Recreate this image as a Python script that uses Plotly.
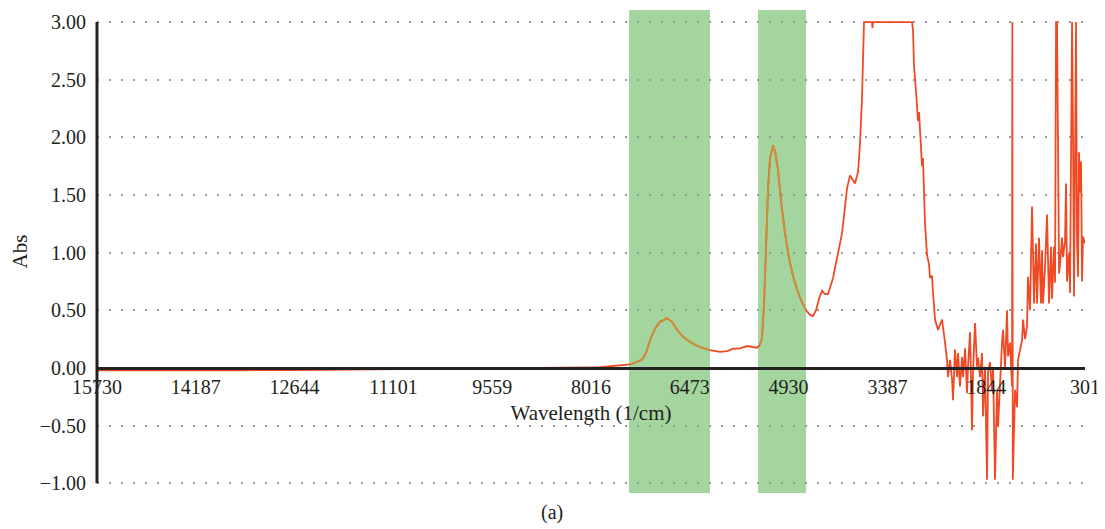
import plotly.graph_objects as go

# ---------------- data ----------------
WAVENUMBER = [
    15730, 15000, 14187, 13500, 12644, 11800, 11101, 10300, 9559, 9000, 8500, 8016,
    7875, 7640, 7406, 7219, 7156, 7094, 7016, 6938, 6828, 6750, 6672, 6578, 6469,
    6313, 6157, 6001, 5891, 5798, 5688, 5579, 5501, 5423, 5376, 5345, 5313, 5282,
    5251, 5220, 5173, 5142, 5095, 5048, 4986, 4923, 4861, 4798, 4736, 4658, 4595,
    4548, 4501, 4455, 4408, 4361, 4314, 4236, 4158, 4095, 4048, 4017, 3970, 3924,
    3892, 3845, 3814, 3783, 3767, 3752, 3627, 3620, 3611, 3002, 2987, 2971, 2940,
    2925, 2908, 2893, 2862, 2846, 2831, 2799, 2768, 2737, 2721, 2690, 2674, 2643,
    2596, 2534, 2487, 2456, 2440, 2409, 2377, 2362, 2331, 2299, 2284, 2253, 2221,
    2206, 2174, 2143, 2128, 2096, 2065, 2050, 2018, 1987, 1971, 1940, 1909, 1893,
    1862, 1831, 1815, 1784, 1753, 1737, 1706, 1675, 1659, 1628, 1597, 1581, 1550,
    1519, 1503, 1472, 1440, 1436, 1428, 1394, 1362, 1347, 1316, 1284, 1269, 1237,
    1206, 1191, 1159, 1128, 1097, 1066, 1050, 1019, 988, 972, 956, 925, 894, 863,
    831, 816, 785, 769, 753, 738, 706, 691, 660, 644, 613, 597, 582, 550, 535, 503,
    488, 472, 441, 425, 410, 394, 378, 363, 347, 332, 301,
]
ABSORBANCE = [
    -0.020, -0.022, -0.020, -0.020, -0.018, -0.015, -0.012, -0.009, -0.005, -0.002, 0.000, 0.004,
    0.006, 0.015, 0.030, 0.070, 0.130, 0.240, 0.340, 0.400, 0.430, 0.400, 0.330, 0.270, 0.225,
    0.180, 0.155, 0.140, 0.145, 0.165, 0.170, 0.190, 0.185, 0.175, 0.200, 0.260, 0.550, 1.000,
    1.550, 1.820, 1.930, 1.880, 1.720, 1.450, 1.170, 0.950, 0.800, 0.680, 0.590, 0.500, 0.460,
    0.450, 0.500, 0.600, 0.670, 0.640, 0.640, 0.780, 0.980, 1.170, 1.400, 1.560, 1.670, 1.630,
    1.600, 1.700, 1.950, 2.350, 2.700, 3.000, 3.000, 2.950, 3.000, 3.000, 2.930, 2.620, 2.400,
    2.280, 2.140, 2.220, 1.950, 1.750, 1.820, 1.250, 0.980, 0.900, 0.780, 0.800, 0.650, 0.420,
    0.330, 0.420, 0.220, 0.070, -0.080, 0.070, -0.100, -0.280, 0.160, -0.080, 0.130, -0.160, 0.095,
    -0.080, 0.170, -0.220, 0.010, 0.310, -0.540, -0.040, 0.390, 0.010, 0.090, -0.080, 0.130, -0.420,
    0.010, -0.970, -0.040, 0.050, -0.200, 0.010, -0.970, -0.190, -0.510, -0.080, 0.220, 0.330, 0.000,
    0.500, 0.100, 0.220, -0.160, 3.000, -0.970, -0.190, -0.340, 0.070, 0.160, 0.240, 0.420, 0.250,
    0.360, 0.790, 0.500, 1.400, 0.560, 1.080, 0.560, 1.130, 0.560, 1.020, 0.560, 0.880, 1.330, 0.560,
    1.050, 0.600, 1.050, 0.740, 3.000, 3.000, 0.820, 0.900, 1.130, 0.960, 1.100, 1.600, 0.750, 1.000, 0.650, 3.000,
    2.000, 0.620, 3.000, 1.080, 0.790, 1.870, 1.520, 1.790, 0.750, 1.140, 1.080,
]
X_TICKS = [15730, 14187, 12644, 11101, 9559, 8016, 6473, 4930, 3387, 1844, 301]
Y_TICKS = [-1.0, -0.5, 0.0, 0.5, 1.0, 1.5, 2.0, 2.5, 3.0]
BANDS = [(7422, 6157), (5407, 4657)]          # highlighted wavenumber windows
X_TITLE = "Wavelength (1/cm)"
Y_TITLE = "Abs"
CAPTION = "(a)"

# ---------------- styling ----------------
FONT = "Liberation Serif, Times New Roman, serif"
LINE_RED = "#f04a25"
LINE_IN_BAND = "#c8913a"
BAND_GREEN = "#a4d59e"
Y_RANGE = [-1.085, 3.105]
X_RANGE = [X_TICKS[0], X_TICKS[-1]]

fig = go.Figure()
fig.add_trace(go.Scatter(x=WAVENUMBER, y=ABSORBANCE, mode="lines",
                         line=dict(color=LINE_RED, width=1.8), showlegend=False))

# colour of the line where it passes through the highlighted windows
for hi, lo in BANDS:
    xs, ys = [], []
    for x, y in zip(WAVENUMBER, ABSORBANCE):
        if lo <= x <= hi:
            xs.append(x)
            ys.append(y)
    fig.add_trace(go.Scatter(x=xs, y=ys, mode="lines",
                             line=dict(color=LINE_IN_BAND, width=1.8), showlegend=False))

for hi, lo in BANDS:
    fig.add_shape(type="rect", xref="x", yref="paper", x0=hi, x1=lo, y0=0, y1=1,
                  fillcolor=BAND_GREEN, line=dict(width=0), layer="below")

# vertical axis line spanning only the tick range
fig.add_shape(type="line", xref="paper", yref="y", x0=0, x1=0,
              y0=Y_TICKS[0], y1=Y_TICKS[-1], line=dict(color="#222222", width=3))

zero_pos = (0 - Y_RANGE[0]) / (Y_RANGE[1] - Y_RANGE[0])

fig.update_layout(
    width=1105, height=529,
    margin=dict(l=89, r=28, t=2, b=44),
    paper_bgcolor="white", plot_bgcolor="white",
    font=dict(family=FONT, size=20, color="#231f20"),
    xaxis=dict(
        range=X_RANGE, tickmode="array", tickvals=X_TICKS,
        ticktext=[str(v) for v in X_TICKS],
        showgrid=False, zeroline=False,
        showline=True, linecolor="#222222", linewidth=3,
        anchor="free", position=zero_pos,
        ticks="",
        title=dict(text=X_TITLE, standoff=8, font=dict(size=21)),
        automargin=False,
    ),
    yaxis=dict(
        range=Y_RANGE, tickmode="array", tickvals=Y_TICKS,
        tickformat=".2f",
        showgrid=True, gridcolor="#9a9a9a", griddash="2px,10px", gridwidth=1.5,
        zeroline=False, showline=False,
        ticks="outside", ticklen=6, tickcolor="rgba(0,0,0,0)",
        title=dict(text=Y_TITLE, standoff=10, font=dict(size=21)),
        automargin=False,
    ),
)

fig.add_annotation(text=CAPTION, xref="paper", yref="paper", x=0.4605, y=-0.041,
                   xanchor="center", yanchor="middle", showarrow=False,
                   font=dict(size=20, family=FONT, color="#231f20"))

fig.write_html("out.html")
